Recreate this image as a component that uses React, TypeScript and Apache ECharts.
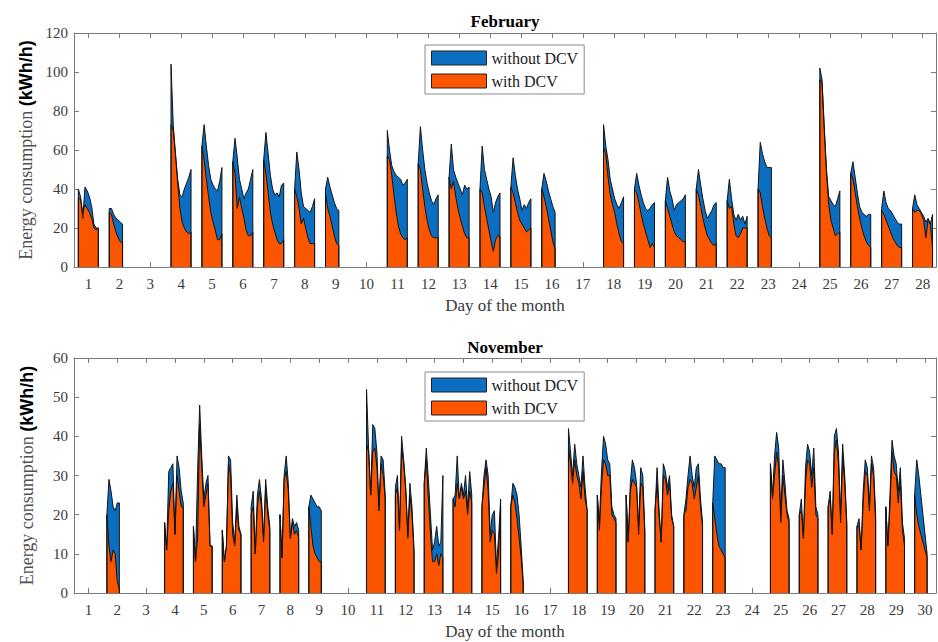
import React, { useEffect, useRef } from "react";
import * as echarts from "echarts";

// ---------- data ----------
const febTickDays = [1, 2, 3, 4, 5, 6, 7, 8, 9, 10, 11, 12, 13, 14, 15, 16, 17, 18, 19, 20, 21, 22, 23, 24, 25, 26, 27, 28];
const novTickDays = [1, 2, 3, 4, 5, 6, 7, 8, 9, 10, 11, 12, 13, 14, 15, 16, 17, 18, 19, 20, 21, 22, 23, 24, 25, 26, 27, 28, 29, 30];
const febYTicks = [0, 20, 40, 60, 80, 100, 120];
const novYTicks = [0, 10, 20, 30, 40, 50, 60];

// days with occupancy (February)
const febDays = [1, 2, 4, 5, 6, 7, 8, 9, 11, 12, 13, 14, 15, 16, 18, 19, 20, 21, 22, 23, 25, 26, 27, 28];
// energy consumption without DCV (kWh/h), readings through each operating day
const febWithoutDCV = [
  [40, 36, 25, 41, 39, 36, 31, 22, 20, 20],
  [30, 30, 27, 25, 24, 23, 22],
  [104, 73, 58, 45, 37, 36, 40, 43, 46, 50],
  [62, 73, 62, 52, 45, 42, 40, 39, 44, 51],
  [54, 66, 56, 45, 40, 35, 38, 40, 45, 50],
  [55, 69, 58, 47, 40, 37, 38, 36, 42, 43],
  [40, 59, 50, 38, 31, 30, 29, 28, 31, 35],
  [40, 46, 41, 37, 33, 30, 29],
  [70, 60, 52, 49, 47, 46, 45, 42, 43, 45],
  [53, 72, 60, 50, 43, 38, 34, 32, 35, 37],
  [46, 63, 50, 46, 43, 40, 37, 42, 40, 41],
  [40, 62, 50, 45, 40, 36, 28, 33, 36, 38],
  [41, 56, 47, 40, 35, 29, 32, 30, 33, 35],
  [40, 48, 44, 39, 35, 31, 28],
  [73, 62, 55, 45, 40, 35, 32, 30, 33, 36],
  [40, 48, 42, 37, 33, 30, 29, 30, 32, 33],
  [34, 46, 39, 35, 29, 32, 33, 34, 35, 37],
  [40, 50, 42, 35, 29, 25, 27, 29, 32, 33],
  [34, 45, 35, 27, 24, 27, 24, 26, 22, 26],
  [40, 64, 58, 54, 51, 51, 51],
  [102, 96, 72, 50, 36, 34, 32, 31, 35, 39],
  [48, 54, 46, 38, 31, 28, 27, 26, 27, 27],
  [30, 39, 33, 30, 29, 27, 25, 23, 22, 22],
  [30, 37, 32, 30, 28, 26, 23, 25, 22, 27],
];
const febWithDCV = [
  [35, 35, 28, 32, 30, 28, 25, 20, 19, 20],
  [28, 27, 22, 18, 15, 13, 12],
  [73, 70, 58, 43, 30, 23, 20, 18, 17, 18],
  [62, 55, 45, 36, 28, 23, 19, 14, 14, 17],
  [54, 48, 30, 36, 30, 25, 19, 16, 16, 18],
  [55, 48, 38, 28, 22, 18, 14, 12, 12, 14],
  [40, 36, 30, 22, 25, 20, 15, 12, 12, 12],
  [38, 30, 26, 21, 16, 12, 11],
  [57, 55, 47, 37, 28, 21, 17, 15, 14, 15],
  [53, 50, 40, 31, 24, 19, 16, 15, 15, 15],
  [46, 40, 44, 36, 30, 25, 21, 17, 15, 15],
  [40, 38, 31, 25, 19, 13, 8, 14, 16, 16],
  [41, 38, 33, 28, 24, 22, 20, 18, 19, 20],
  [40, 36, 31, 25, 19, 13, 9],
  [61, 58, 46, 37, 32, 28, 22, 17, 13, 12],
  [40, 38, 33, 27, 22, 18, 14, 10, 12, 10],
  [34, 30, 26, 22, 18, 16, 15, 14, 13, 13],
  [40, 37, 31, 25, 20, 16, 14, 12, 11, 12],
  [34, 30, 31, 22, 16, 15, 17, 20, 20, 20],
  [40, 38, 31, 25, 20, 16, 15],
  [96, 94, 70, 48, 32, 24, 20, 16, 17, 18],
  [48, 45, 38, 31, 25, 20, 16, 13, 11, 10],
  [29, 27, 24, 21, 18, 15, 13, 11, 10, 10],
  [30, 28, 29, 29, 27, 24, 15, 24, 22, 10],
];

// days with occupancy (November)
const novDays = [2, 4, 5, 6, 7, 8, 9, 11, 12, 13, 14, 15, 16, 18, 19, 20, 21, 22, 23, 25, 26, 27, 28, 29, 30];
const novWithoutDCV = [
  [20, 29, 26, 22, 21, 23, 23],
  [18, 11, 31, 32, 33, 15, 35, 32, 26, 23],
  [17, 8, 31, 48, 35, 24, 28, 30, 12, 12],
  [16, 8, 12, 35, 34, 18, 13, 25, 17, 15],
  [22, 26, 10, 25, 29, 24, 14, 29, 22, 17],
  [20, 9, 30, 35, 28, 14, 19, 17, 18, 16],
  [22, 25, 24, 23, 22, 22, 21],
  [52, 37, 25, 43, 42, 36, 22, 35, 34, 25],
  [27, 30, 16, 40, 34, 27, 15, 28, 22, 11],
  [28, 37, 29, 20, 11, 13, 17, 12, 13, 30],
  [24, 25, 35, 24, 28, 25, 30, 22, 31, 25],
  [22, 30, 34, 30, 15, 20, 21, 7, 14, 24],
  [22, 28, 27, 25, 20, 12, 3],
  [42, 36, 30, 38, 33, 30, 27, 35, 27, 21],
  [25, 18, 31, 40, 38, 34, 33, 22, 20, 19],
  [25, 13, 28, 34, 32, 28, 17, 32, 30, 16],
  [21, 32, 21, 13, 33, 31, 27, 30, 20, 17],
  [20, 24, 30, 35, 30, 27, 32, 33, 24, 18],
  [23, 35, 34, 33, 33, 32, 32],
  [33, 25, 35, 41, 37, 20, 34, 28, 21, 19],
  [20, 24, 14, 32, 38, 36, 30, 37, 22, 20],
  [22, 26, 15, 40, 42, 36, 20, 38, 30, 18],
  [17, 19, 11, 26, 34, 32, 22, 35, 32, 20],
  [22, 12, 25, 39, 35, 33, 26, 32, 18, 14],
  [25, 34, 30, 25, 20, 15, 10],
];
const novWithDCV = [
  [20, 12, 8, 11, 10, 3, 1],
  [18, 11, 21, 26, 28, 15, 30, 26, 22, 22],
  [17, 8, 14, 43, 32, 22, 25, 28, 12, 12],
  [16, 8, 12, 33, 30, 15, 12, 22, 16, 15],
  [20, 22, 10, 22, 26, 22, 13, 27, 20, 16],
  [20, 9, 29, 31, 26, 14, 18, 15, 16, 14],
  [22, 17, 12, 10, 9, 8, 8],
  [38, 36, 25, 36, 37, 32, 21, 33, 30, 24],
  [25, 27, 16, 37, 33, 26, 14, 25, 20, 10],
  [28, 34, 24, 15, 8, 8, 10, 7, 10, 9],
  [24, 22, 28, 24, 27, 24, 26, 20, 26, 23],
  [22, 27, 32, 26, 13, 16, 15, 5, 10, 22],
  [22, 25, 23, 19, 14, 9, 2],
  [37, 33, 28, 34, 30, 28, 24, 31, 24, 21],
  [25, 16, 27, 34, 33, 30, 30, 20, 19, 18],
  [25, 13, 26, 29, 28, 27, 15, 28, 27, 15],
  [21, 28, 19, 13, 30, 29, 25, 28, 19, 17],
  [20, 21, 27, 29, 28, 24, 27, 30, 22, 17],
  [23, 19, 15, 12, 11, 10, 9],
  [33, 24, 30, 36, 32, 18, 30, 25, 20, 18],
  [20, 21, 14, 28, 34, 33, 27, 32, 20, 19],
  [22, 24, 15, 36, 39, 33, 18, 35, 28, 17],
  [17, 17, 11, 23, 31, 30, 21, 33, 30, 18],
  [22, 12, 22, 36, 31, 30, 23, 29, 16, 12],
  [25, 20, 17, 15, 13, 11, 9],
];

const seriesNames = ["without DCV", "with DCV"];

// ---------- styling ----------
const BLUE = "#0b6ec0";
const ORANGE = "#fb5500";
const FRAME = "#7a7a7a";
const SERIF = "'Liberation Serif', 'Times New Roman', serif";

// day fraction of first reading and spacing between readings
const FEB_START = -0.33;
const NOV_START = -0.36;
const STEP = 0.072;

function buildData(days: number[], values: number[][], start: number) {
  const out: any[] = [];
  days.forEach((d, i) => {
    const vals = values[i];
    const x0 = d + start;
    const xN = x0 + (vals.length - 1) * STEP;
    out.push([x0, 0]);
    vals.forEach((v, j) => out.push([x0 + j * STEP, v]));
    out.push([xN, 0]);
    out.push([xN + 0.01, "-"]);
  });
  return out;
}

function xAxes(gridIndex: number, min: number, max: number, ticks: number[]) {
  return [
    {
      gridIndex,
      type: "value",
      position: "bottom",
      min,
      max,
      axisLine: { show: true, onZero: false, lineStyle: { color: FRAME, width: 1 } },
      axisTick: { show: true, inside: true, length: 5, customValues: ticks, lineStyle: { color: FRAME } },
      axisLabel: { show: true, customValues: ticks, fontFamily: SERIF, fontSize: 15, color: "#3a3a3a", margin: 9 },
      splitLine: { show: false },
      name: "Day of the month",
      nameLocation: "middle",
      nameGap: 30,
      nameTextStyle: { fontFamily: SERIF, fontSize: 17, color: "#3a3a3a" },
    },
    {
      gridIndex,
      type: "value",
      position: "top",
      min,
      max,
      axisLine: { show: true, onZero: false, lineStyle: { color: FRAME, width: 1 } },
      axisTick: { show: true, inside: true, length: 5, customValues: ticks, lineStyle: { color: FRAME } },
      axisLabel: { show: false },
      splitLine: { show: false },
    },
  ];
}

function yAxes(gridIndex: number, ticks: number[]) {
  const min = ticks[0];
  const max = ticks[ticks.length - 1];
  const interval = ticks[1] - ticks[0];
  return [
    {
      gridIndex,
      type: "value",
      position: "left",
      min,
      max,
      interval,
      axisLine: { show: true, lineStyle: { color: FRAME, width: 1 } },
      axisTick: { show: true, inside: true, length: 5, lineStyle: { color: FRAME } },
      axisLabel: { fontFamily: SERIF, fontSize: 15, color: "#3a3a3a", margin: 6 },
      splitLine: { show: false },
      name: "{a|Energy consumption }{b|(kWh/h)}",
      nameLocation: "middle",
      nameGap: 38,
      nameTextStyle: {
        rich: {
          a: { fontFamily: SERIF, fontSize: 18, color: "#505050" },
          b: { fontFamily: "'Liberation Sans', Arial, sans-serif", fontWeight: "bold", fontSize: 18, color: "#000" },
        },
      },
    },
    {
      gridIndex,
      type: "value",
      position: "right",
      min,
      max,
      interval,
      axisLine: { show: true, lineStyle: { color: FRAME, width: 1 } },
      axisTick: { show: true, inside: true, length: 5, lineStyle: { color: FRAME } },
      axisLabel: { show: false },
      splitLine: { show: false },
    },
  ];
}

function areaSeries(name: string, color: string, axisIndex: number, data: any[]) {
  return {
    name,
    type: "line",
    xAxisIndex: axisIndex,
    yAxisIndex: axisIndex,
    data,
    symbol: "none",
    showSymbol: false,
    connectNulls: false,
    silent: true,
    lineStyle: { color: "#141414", width: 1 },
    itemStyle: { color },
    areaStyle: { color, opacity: 1 },
  };
}

function legendAt(top: number) {
  return {
    left: 425,
    top,
    orient: "vertical",
    selectedMode: false,
    backgroundColor: "#fff",
    borderColor: "#8a8a8a",
    borderWidth: 1,
    padding: [5, 6, 5, 6],
    itemWidth: 55,
    itemHeight: 14,
    itemGap: 7,
    icon: "rect",
    textStyle: { fontFamily: SERIF, fontSize: 16, color: "#222" },
    data: [
      { name: seriesNames[0], icon: "rect", itemStyle: { color: BLUE, borderColor: "#222", borderWidth: 1 } },
      { name: seriesNames[1], icon: "rect", itemStyle: { color: ORANGE, borderColor: "#222", borderWidth: 1 } },
    ],
  };
}

export default function App() {
  const ref = useRef<HTMLDivElement>(null);

  useEffect(() => {
    if (!ref.current) return;
    const chart = echarts.init(ref.current, undefined, { renderer: "svg" });
    const febX = xAxes(0, 0.53, 28.43, febTickDays);
    const novX = xAxes(1, 0.5, 30.38, novTickDays);
    const febY = yAxes(0, febYTicks);
    const novY = yAxes(1, novYTicks);

    chart.setOption({
      animation: false,
      backgroundColor: "#fff",
      grid: [
        { left: 74, right: 2, top: 33, height: 234 },
        { left: 74, right: 2, top: 358, height: 235 },
      ],
      xAxis: [...febX, ...novX],
      yAxis: [...febY, ...novY],
      legend: [legendAt(45), legendAt(372)],
      graphic: [
        {
          type: "text",
          x: 505,
          y: 21,
          style: { text: "February", font: `bold 17px ${SERIF}`, fill: "#000", textAlign: "center", textVerticalAlign: "middle" },
        },
        {
          type: "text",
          x: 505,
          y: 347,
          style: { text: "November", font: `bold 17px ${SERIF}`, fill: "#000", textAlign: "center", textVerticalAlign: "middle" },
        },
      ],
      series: [
        areaSeries(seriesNames[0], BLUE, 0, buildData(febDays, febWithoutDCV, FEB_START)),
        areaSeries(seriesNames[1], ORANGE, 0, buildData(febDays, febWithDCV, FEB_START)),
        areaSeries(seriesNames[0], BLUE, 2, buildData(novDays, novWithoutDCV, NOV_START)),
        areaSeries(seriesNames[1], ORANGE, 2, buildData(novDays, novWithDCV, NOV_START)),
      ],
    });
    return () => chart.dispose();
  }, []);

  return <div ref={ref} style={{ position: "absolute", left: 0, top: 0, width: 938, height: 642 }} />;
}
